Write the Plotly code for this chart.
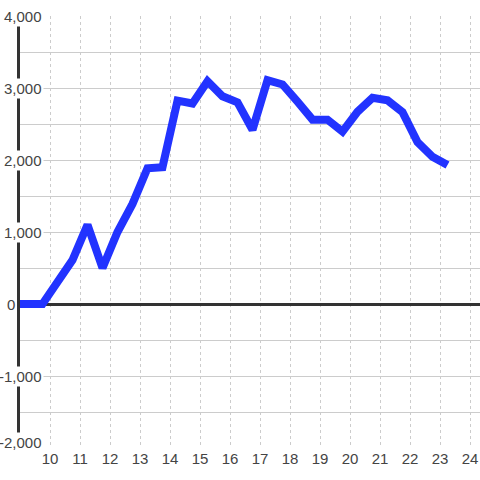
import plotly.graph_objects as go

hours = [9.0, 9.75, 10.25, 10.75, 11.25, 11.75, 12.25, 12.75, 13.25, 13.75,
         14.25, 14.75, 15.25, 15.75, 16.25, 16.75, 17.25, 17.75, 18.25, 18.75,
         19.25, 19.75, 20.25, 20.75, 21.25, 21.75, 22.25, 22.75, 23.25]
values = [0, 0, 305, 611, 1100, 500, 1000, 1390, 1885, 1900,
          2825, 2785, 3095, 2885, 2800, 2420, 3110, 3050, 2810, 2560,
          2560, 2395, 2670, 2865, 2830, 2665, 2250, 2045, 1930]

x_ticks = list(range(10, 25))
y_label_vals = [4000, 3000, 2000, 1000, 0, -1000, -2000]
y_label_text = ["4,000", "3,000", "2,000", "1,000", "0", "-1,000", "-2,000"]

TEXT = "#444444"
GRID = "#cccccc"
FONT = "Liberation Sans, Arial, sans-serif"

fig = go.Figure()
fig.add_trace(go.Scatter(
    x=hours, y=values, mode="lines",
    line=dict(color="#2233ff", width=8),
    hoverinfo="skip", showlegend=False,
))

annotations = []
for v, t in zip(y_label_vals, y_label_text):
    annotations.append(dict(
        x=0, xref="paper", y=v, yref="y", text=t, showarrow=False,
        xanchor="right", yanchor="middle",
        xshift=-3 if v == 0 else 24,
        yshift=6 if v == -2000 else 0,
        font=dict(size=15, color=TEXT, family=FONT),
        bgcolor="white", borderpad=1,
    ))

fig.update_layout(
    width=480, height=480,
    margin=dict(l=20, r=0, t=16, b=32),
    paper_bgcolor="white", plot_bgcolor="white",
    font=dict(family=FONT, size=15, color=TEXT),
    annotations=annotations,
    xaxis=dict(
        range=[9.0, 24.3333], tickvals=x_ticks, ticktext=[str(t) for t in x_ticks],
        showgrid=True, gridcolor=GRID, gridwidth=1, griddash="dot",
        zeroline=False, showline=False, ticks="",
        tickfont=dict(size=15, color=TEXT, family=FONT),
    ),
    yaxis=dict(
        range=[-2000, 4000], tick0=0, dtick=500,
        showgrid=True, gridcolor=GRID, gridwidth=1,
        showticklabels=False, ticks="",
        zeroline=True, zerolinecolor="#333333", zerolinewidth=3,
        showline=True, linecolor="#333333", linewidth=3,
    ),
)

fig.write_html(
    "out.html",
    config={"displayModeBar": False},
    post_script="document.body.style.margin='0';document.body.style.padding='0';",
)
